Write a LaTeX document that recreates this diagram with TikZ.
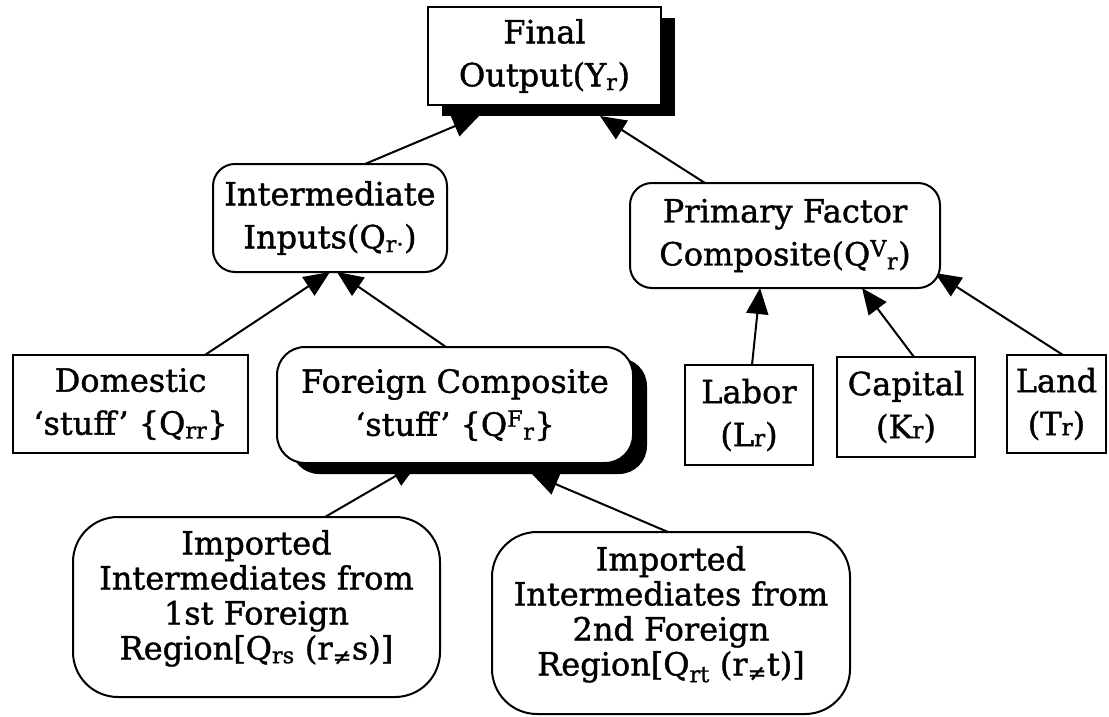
\documentclass[tikz,border=0pt]{standalone}
\usepackage{fontspec}
\setmainfont[FakeBold=1.2]{DejaVu Serif}
\usetikzlibrary{arrows.meta,calc,shadows}
\pgfdeclarelayer{back}
\pgfsetlayers{back,main}
\newcommand{\smallr}{{\fontsize{23pt}{23pt}\selectfont r}}
\newcommand{\uptext}[1]{\raisebox{7pt}[\height][\depth]{\begin{tabular}{@{}c@{}}#1\end{tabular}}}
\begin{document}
\begin{tikzpicture}[x=1pt,y=-1pt,
  box/.style={draw, line width=2.5pt, fill=white, inner sep=0pt, outer sep=0pt, align=center, font=\fontsize{32}{43}\selectfont},
  rbox/.style={box, line width=2pt, rounded corners=22pt},
  shad/.style={drop shadow={shadow xshift=14pt, shadow yshift=-11pt, opacity=1, fill=black}},
  tight/.style={font=\fontsize{32}{35}\selectfont},
  conn/.style={line width=2pt, -{Triangle[length=26pt,width=22pt]}}]
\useasboundingbox (0,0) rectangle (1109,717);

\node[box, shad, minimum width=233pt, minimum height=98pt] (fin) at (544.5,56) {Final\\Output(Y\textsubscript{r})};
\node[rbox, minimum width=234pt, minimum height=108pt] (int) at (330,218) {Intermediate\\Inputs(Q\textsubscript{r·})};
\node[rbox, minimum width=310pt, minimum height=105pt] (pf) at (785,235.5) {Primary Factor\\Composite(Q\textsuperscript{V}\textsubscript{r})};
\node[box, minimum width=235pt, minimum height=98pt] (dom) at (130.5,404) {Domestic\\‘stuff’ \{Q\textsubscript{rr}\}};
\node[rbox, shad, rounded corners=28pt, minimum width=356pt, minimum height=116pt] (for) at (455,405) {Foreign Composite\\‘stuff’ \{Q\textsuperscript{F}\textsubscript{r}\}};
\node[box, minimum width=128pt, minimum height=100pt] (lab) at (749,415) {Labor\\(L\smallr)};
\node[box, minimum width=138pt, minimum height=100pt] (cap) at (906,407) {Capital\\(K\smallr)};
\node[box, minimum width=99pt, minimum height=98pt] (land) at (1056.5,404) {Land\\(T\smallr)};
\node[rbox, tight, rounded corners=45pt, minimum width=367pt, minimum height=180pt] (imp1) at (256.5,607) {\uptext{Imported\\Intermediates from\\1st Foreign\\Region[Q\textsubscript{rs} (r\textsubscript{≠}s)]}};
\node[rbox, tight, rounded corners=45pt, minimum width=358pt, minimum height=182pt] (imp2) at (671,623) {\uptext{Imported\\Intermediates from\\2nd Foreign\\Region[Q\textsubscript{rt} (r\textsubscript{≠}t)]}};

\begin{pgfonlayer}{back}
\fill[white] (0,0) rectangle (1109,717);
\draw[conn] ($(int.north west)+(152,0)$) -- ($(fin.south west)+(51,11)$);
\draw[conn] ($(pf.north west)+(75,0)$) -- ($(fin.south west)+(172,11)$);
\draw[conn] ($(dom.north west)+(192,0)$) -- ($(int.south)+(0,0)$);
\draw[conn] ($(for.north west)+(169,0)$) -- ($(int.south)+(7,0)$);
\draw[conn] ($(imp1.north west)+(252,0)$) -- ($(for.south west)+(141,0)$);
\draw[conn] ($(imp2.north west)+(176,0)$) -- ($(for.south west)+(255,11)$);
\draw[conn] ($(lab.north west)+(67,0)$) -- ($(pf.south west)+(130,0)$);
\draw[conn] ($(cap.north west)+(77,0)$) -- ($(pf.south west)+(232,0)$);
\draw[conn] ($(land.north west)+(56,0)$) -- ($(pf.south east)+(-5,-15)$);
\end{pgfonlayer}
\end{tikzpicture}
\end{document}
